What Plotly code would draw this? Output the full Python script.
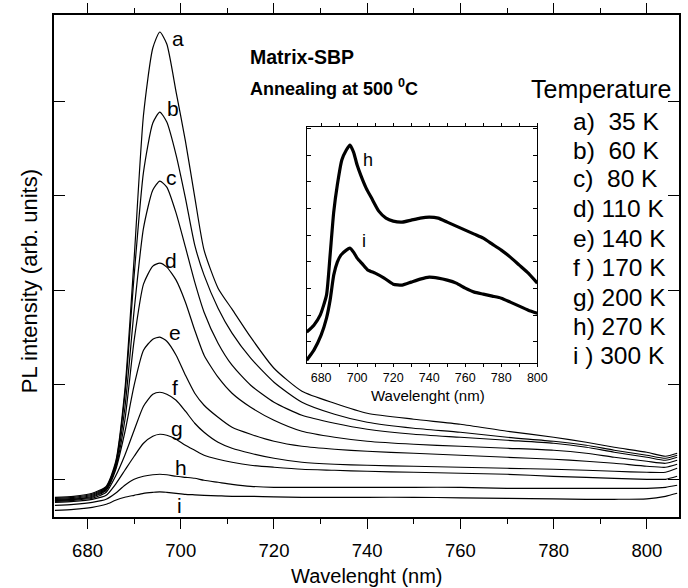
import plotly.graph_objects as go

# ---------------- main panel data (PL intensity, arb. units) ----------------
wavelength = [673, 677, 681, 684, 686, 688, 690, 692, 694, 695.5, 697, 699, 701, 703, 705,
              708, 711, 715, 720, 726, 733, 740, 750, 760, 770, 780, 787, 793, 800, 804, 806.5]

pl_a = [-18, -17, -14, -7, 17, 89, 221, 364, 431, 447, 435, 387, 338, 282, 229,
        191, 170, 142, 111, 88, 76, 66, 60, 55, 48, 42, 37, 32, 27, 23, 26]
pl_b = [-19, -18, -15, -8, 15, 84, 204, 307, 356, 367, 357, 324, 281, 234, 204,
        171, 146, 121, 97, 77, 65, 57, 51, 47, 42, 38, 34, 29, 24, 21, 24]
pl_c = [-20, -19, -16, -9, 13, 71, 169, 251, 289, 298, 292, 266, 232, 197, 167,
        136, 114, 94, 77, 64, 56, 50, 45, 42, 39, 36, 32, 27, 22, 19, 22]
pl_d = [-21, -20, -17, -10, 11, 59, 139, 195, 213, 216, 212, 199, 177, 149, 124,
        102, 86, 72, 59, 48, 42, 38, 35, 33, 31, 29, 26, 22, 18, 16, 19]
pl_e = [-21, -20, -18, -11, 9, 47, 94, 129, 140, 142, 138, 124, 104, 86, 74,
        62, 52, 45, 38, 33, 30, 28, 26, 24, 22, 20, 18, 16, 13, 12, 15]
pl_f = [-22, -21, -19, -13, 3, 24, 49, 73, 85, 87, 85, 79, 68, 56, 47,
        37, 31, 26, 21, 17, 15, 14, 13, 12, 11, 10, 9, 8, 7, 7, 11]
pl_g = [-23, -22, -20, -16, -5, 9, 23, 36, 43, 45, 44, 40, 34, 29, 24,
        20, 17, 14, 12, 10, 9, 8, 7, 6, 5, 3, 2, 1, 0, 0, 3]
pl_h = [-26, -25, -23, -20, -14, -6, 0, 3, 4.5, 5, 4.5, 3, 2, 1, -1,
        -3, -5, -7, -8, -8, -8, -8, -8, -8, -9, -9, -9, -9, -9, -8, -6]
pl_i = [-31, -30, -28, -25, -21, -18, -16, -14, -13, -12.5, -13, -14, -15, -15.5, -16,
        -16.5, -17, -17, -17.5, -18, -18, -18, -18, -18.5, -19, -19.5, -20, -20, -19.5, -17, -14]

curve_names = ["a", "b", "c", "d", "e", "f", "g", "h", "i"]
curve_values = [pl_a, pl_b, pl_c, pl_d, pl_e, pl_f, pl_g, pl_h, pl_i]
label_x = [699.4, 698.3, 698.0, 698.0, 698.7, 698.7, 699.1, 700.1, 699.8]
label_y = [441, 371, 302, 219, 147, 92, 51, 12, -26]

temperature_labels = ["a)\u00a0 35 K", "b)\u00a0 60 K", "c)\u00a0 80 K", "d) 110 K", "e) 140 K",
                      "f ) 170 K", "g) 200 K", "h) 270 K", "i ) 300 K"]

# ---------------- inset data ----------------
wl_inset_h = [672, 676, 679.5, 683, 685, 687, 689, 691.5, 694, 696, 698, 700, 702, 705, 708,
              712, 716, 720, 725, 730, 735, 740, 745, 750, 755, 760, 765, 770, 775, 780,
              785, 790, 795, 800]
inset_h = [31, 38, 48, 68, 108, 151, 178, 203, 213, 218, 211, 198, 188, 175, 165,
           152, 145, 142, 141, 143, 145, 146, 145, 141, 137, 133, 129, 125, 119, 113,
           106, 98, 90, 80]
wl_inset_i = [672, 676, 680, 683, 685, 687, 689, 691, 694, 696, 698, 700, 703, 706, 710,
              715, 720, 725, 730, 735, 740, 745, 750, 755, 760, 765, 770, 775, 780, 785,
              790, 795, 800]
inset_i = [3, 13, 28, 45, 63, 88, 101, 108, 113, 115, 111, 105, 99, 93, 90,
           85, 79, 78, 81, 84, 86, 85, 83, 80, 75, 71, 69, 67, 65, 61,
           57, 53, 50]

FONT = "Liberation Sans, Arial, Helvetica, sans-serif"

fig = go.Figure()
for name, vals in zip(curve_names, curve_values):
    fig.add_trace(go.Scatter(x=wavelength, y=vals, mode="lines", name=name,
                             line=dict(color="black", width=1.2, shape="spline", smoothing=0.6),
                             xaxis="x", yaxis="y", hoverinfo="skip"))

fig.add_trace(go.Scatter(x=wl_inset_h, y=inset_h, mode="lines", name="h inset",
                         line=dict(color="black", width=3.2, shape="spline", smoothing=0.5),
                         xaxis="x2", yaxis="y2", hoverinfo="skip"))
fig.add_trace(go.Scatter(x=wl_inset_i, y=inset_i, mode="lines", name="i inset",
                         line=dict(color="black", width=3.2, shape="spline", smoothing=0.5),
                         xaxis="x2", yaxis="y2", hoverinfo="skip"))

annotations = []
for name, lx, ly in zip(curve_names, label_x, label_y):
    annotations.append(dict(x=lx, y=ly, xref="x", yref="y", text=name, showarrow=False,
                            font=dict(family=FONT, size=21, color="black"),
                            xanchor="center", yanchor="middle"))
annotations.append(dict(x=706.3, y=203, xref="x2", yref="y2", text="h", showarrow=False,
                        font=dict(family=FONT, size=18, color="black")))
annotations.append(dict(x=703.9, y=122, xref="x2", yref="y2", text="i", showarrow=False,
                        font=dict(family=FONT, size=18, color="black")))

def px_x(p):
    return (p - 54) / 625.0

def px_y(p):
    return (516.7 - p) / 501.7

annotations.append(dict(x=px_x(248), y=px_y(57), xref="paper", yref="paper",
                        text="<b>Matrix-SBP</b>", showarrow=False, xanchor="left", yanchor="middle",
                        font=dict(family=FONT, size=19.5, color="black")))
annotations.append(dict(x=px_x(248), y=px_y(87), xref="paper", yref="paper",
                        text="<b>Annealing at 500 <sup>0</sup>C</b>", showarrow=False,
                        xanchor="left", yanchor="middle",
                        font=dict(family=FONT, size=18, color="black")))
annotations.append(dict(x=px_x(601), y=px_y(89), xref="paper", yref="paper",
                        text="Temperature", showarrow=False, xanchor="center", yanchor="middle",
                        font=dict(family=FONT, size=25, color="black")))
legend_y = [121, 150, 178, 208, 238, 267, 297, 326, 355]
for t, yy in zip(temperature_labels, legend_y):
    annotations.append(dict(x=px_x(571), y=px_y(yy), xref="paper", yref="paper",
                            text=t, showarrow=False, xanchor="left", yanchor="middle",
                            font=dict(family=FONT, size=24.5, color="black")))
annotations.append(dict(x=px_x(367), y=px_y(576), xref="paper", yref="paper",
                        text="Wavelenght (nm)", showarrow=False, xanchor="center", yanchor="middle",
                        font=dict(family=FONT, size=20, color="black")))
annotations.append(dict(x=px_x(29), y=px_y(281), xref="paper", yref="paper",
                        text="PL intensity (arb. units)", showarrow=False, textangle=-90,
                        xanchor="center", yanchor="middle",
                        font=dict(family=FONT, size=22, color="black")))
annotations.append(dict(x=px_x(428), y=px_y(395), xref="paper", yref="paper",
                        text="Wavelenght (nm)", showarrow=False, xanchor="center", yanchor="middle",
                        font=dict(family=FONT, size=15, color="black")))

fig.update_layout(
    width=688, height=588, autosize=False,
    margin=dict(l=54, r=9, t=15, b=71, autoexpand=False),
    paper_bgcolor="white", plot_bgcolor="white",
    showlegend=False,
    annotations=annotations,
    xaxis=dict(domain=[0, 1], anchor="y", range=[672.8, 806.9], tick0=680, dtick=20,
               ticks="outside", ticklen=10, tickwidth=1.2, tickcolor="black",
               minor=dict(dtick=10, tick0=680, ticks="outside", ticklen=5, tickwidth=1.2, tickcolor="black"),
               showline=True, linewidth=1.5, linecolor="black", mirror="ticks",
               showgrid=False, zeroline=False, ticklabelstandoff=6, automargin=False,
               tickfont=dict(family=FONT, size=18.5, color="black")),
    yaxis=dict(domain=[0, 1], anchor="x", range=[-37.7, 464], tick0=0, dtick=94.5,
               ticks="inside", ticklen=11, tickwidth=1.2, tickcolor="black",
               showticklabels=False, showline=True, linewidth=1.5, linecolor="black",
               mirror="ticks", showgrid=False, zeroline=False, automargin=False),
    xaxis2=dict(domain=[0.4043, 0.7733], anchor="y2", range=[672, 800], tick0=680, dtick=20,
                ticks="outside", ticklen=3, tickwidth=1, tickcolor="black",
                minor=dict(dtick=10, tick0=680, ticks="outside", ticklen=3, tickwidth=1, tickcolor="black"),
                showline=True, linewidth=1.2, linecolor="black", mirror="ticks",
                showgrid=False, zeroline=False, ticklabelstandoff=0, automargin=False,
                tickfont=dict(family=FONT, size=12.5, color="black")),
    yaxis2=dict(domain=[0.3064, 0.7774], anchor="x2", range=[0, 236.3], tick0=21.3, dtick=26.67,
                ticks="inside", ticklen=4, tickwidth=1, tickcolor="black",
                showticklabels=False, showline=True, linewidth=1.2, linecolor="black",
                mirror="ticks", showgrid=False, zeroline=False, automargin=False),
)

fig.write_html("out.html", config={"responsive": False, "displayModeBar": False},
               post_script="document.body.style.margin='0';document.body.style.overflow='hidden';")
